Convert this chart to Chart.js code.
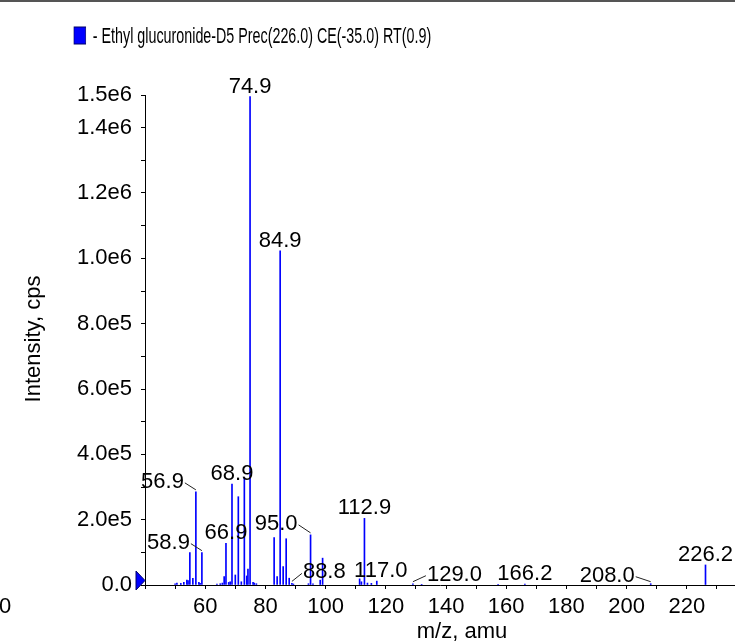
<!DOCTYPE html>
<html>
<head>
<meta charset="utf-8">
<script src="https://cdn.jsdelivr.net/npm/chart.js@4.4.1/dist/chart.umd.min.js"></script>
<style>
    html, body { margin: 0; padding: 0; background: #fff; }
    #wrap { position: relative; width: 735px; height: 642px; }
</style>
</head>
<body>
<div id="wrap"><canvas id="spectrumChart"></canvas></div>
<script>
// peak list (m/z, cps)
const mzValues = [50.0, 50.6, 51.9, 52.9, 53.9, 54.3, 54.9, 55.9, 56.9, 57.9, 58.3, 58.9,
    63.9, 65.0, 65.7, 66.3, 66.9, 67.8, 68.3, 68.9, 70.0, 71.0, 72.0, 73.0, 73.8, 74.2, 74.9,
    75.9, 76.3, 77.0, 82.9, 83.9, 84.9, 85.9, 86.9, 87.9, 88.8, 89.3, 94.3, 95.0, 95.8, 98.2, 99.0,
    111.3, 111.9, 112.9, 113.9, 115.2, 117.0, 129.0, 131.9, 157.3, 166.2, 208.0, 226.2];
const intensities = [4000, 6000, 5000, 8000, 15000, 14000, 100000, 21000, 288000, 8000, 5000, 100000,
    3000, 4000, 6000, 26000, 129000, 8000, 10000, 312000, 31000, 273000, 10000, 332000, 28000, 49000, 1510000,
    8000, 6000, 4000, 147000, 26000, 1033000, 57000, 143000, 21000, 5000, 3000, 4000, 155000, 4000, 15000, 83000,
    19000, 10000, 206000, 6000, 5000, 12000, 4000, 2000, 2000, 2500, 4000, 62000];
const peakLabels = ['74.9', '84.9', '56.9', '58.9', '66.9', '68.9', '95.0', '88.8', '112.9',
    '117.0', '129.0', '166.2', '208.0', '226.2'];
const xTickLabels = ['60', '80', '100', '120', '140', '160', '180', '200', '220'];
const yTickLabels = ['0.0', '2.0e5', '4.0e5', '6.0e5', '8.0e5', '1.0e6', '1.2e6', '1.4e6', '1.5e6'];
const seriesName = '- Ethyl glucuronide-D5 Prec(226.0) CE(-35.0) RT(0.9)';

// where the labels go, relative to the top of their peak (leader line when lead is set)
const labelPlacement = {
    '56.9': { dx: -11, dy: -9, lead: true },
    '58.9': { dx: -11, dy: -9, lead: true },
    '95.0': { dx: -12, dy: -10, lead: true },
    '88.8': { dx: 10, dy: -10, lead: true },
    '129.0': { dx: 13, dy: -8, lead: true },
    '208.0': { dx: -15, dy: -7, lead: true },
    '117.0': { dx: 4, dy: 0 }
};

const FONT = '"Liberation Sans", Arial, Helvetica, sans-serif';
Chart.defaults.font.family = FONT;
Chart.defaults.font.size = 22;
Chart.defaults.color = '#000';

function fmtY(v) {
    if (Math.abs(v) < 1) return '0.0';
    return v.toExponential(1).replace('e+', 'e');
}

const decorations = {
    id: 'decorations',
    afterDatasetsDraw(chart) {
        const { ctx, scales: { x, y } } = chart;
        ctx.save();
        ctx.font = '22px ' + FONT;
        ctx.fillStyle = '#000';
        ctx.textBaseline = 'alphabetic';

        peakLabels.forEach(lbl => {
            const i = mzValues.findIndex(m => m.toFixed(1) === lbl);
            const px = x.getPixelForValue(mzValues[i]);
            const py = y.getPixelForValue(intensities[i]);
            const p = labelPlacement[lbl];
            if (!p || !p.lead) {
                ctx.textAlign = 'center';
                ctx.fillText(lbl, px + (p ? p.dx : 0), py - 4);
                return;
            }
            const x1 = px + p.dx, y1 = py + p.dy;
            ctx.strokeStyle = '#222';
            ctx.lineWidth = 1;
            ctx.beginPath();
            ctx.moveTo(px, py - 2);
            ctx.lineTo(x1, y1);
            ctx.stroke();
            ctx.textAlign = p.dx < 0 ? 'right' : 'left';
            ctx.fillText(lbl, x1 + (p.dx < 0 ? -1 : 1), y1 + 5);
        });

        // zero marker on the y axis
        const y0 = y.getPixelForValue(0);
        ctx.fillStyle = '#0000ff';
        ctx.strokeStyle = '#000066';
        ctx.lineWidth = 1;
        ctx.beginPath();
        ctx.moveTo(136, y0 - 14);
        ctx.lineTo(136, y0 + 5);
        ctx.lineTo(145, y0 - 4.5);
        ctx.closePath();
        ctx.fill();
        ctx.stroke();

        // axis titles
        ctx.fillStyle = '#000';
        ctx.textAlign = 'center';
        ctx.fillText('m/z, amu', 462, 638);
        ctx.save();
        ctx.translate(40, 339);
        ctx.rotate(-Math.PI / 2);
        ctx.fillText('Intensity, cps', 0, 0);
        ctx.restore();

        // stray left label of the original
        ctx.textAlign = 'left';
        ctx.fillText('0', -1, 613);

        // top rule
        ctx.strokeStyle = '#555';
        ctx.lineWidth = 2;
        ctx.beginPath();
        ctx.moveTo(0, 1);
        ctx.lineTo(735, 1);
        ctx.stroke();

        // legend (condensed)
        ctx.save();
        ctx.translate(74, 0);
        ctx.scale(0.65, 1);
        ctx.fillStyle = '#0000ff';
        ctx.strokeStyle = '#000066';
        ctx.lineWidth = 1;
        ctx.fillRect(0, 27, 18, 17);
        ctx.strokeRect(0, 27, 18, 17);
        ctx.fillStyle = '#000';
        ctx.font = '22px ' + FONT;
        ctx.fillText(seriesName, 29, 43);
        ctx.restore();

        ctx.restore();
    }
};

const ctx = document.getElementById('spectrumChart').getContext('2d');
const spectrumChart = new Chart(ctx, {
    type: 'bar',
    data: {
        datasets: [{
            data: mzValues.map((m, i) => ({ x: m, y: intensities[i] })),
            backgroundColor: '#0000ff',
            borderWidth: 0,
            barThickness: 1,
            grouped: false,
            clip: false
        }]
    },
    options: {
        responsive: true,
        maintainAspectRatio: false,
        animation: false,
        devicePixelRatio: 1,
        layout: { padding: { top: 95, right: 0, left: 0, bottom: 0 } },
        plugins: { legend: { display: false }, tooltip: { enabled: false } },
        scales: {
            x: {
                type: 'linear',
                min: 40,
                max: 236,
                offset: false,
                afterFit: s => { s.height = 57; },
                grid: { drawOnChartArea: false, drawTicks: true, tickLength: 4, color: '#000', offset: false },
                border: { display: true, color: '#000', width: 1 },
                ticks: {
                    stepSize: 10,
                    autoSkip: false,
                    maxRotation: 0,
                    includeBounds: false,
                    padding: 5,
                    callback: v => xTickLabels.includes(String(v)) ? String(v) : ''
                }
            },
            y: {
                min: 0,
                max: 1515000,
                afterFit: s => { s.width = 145; },
                grid: { drawOnChartArea: false, drawTicks: true, tickLength: 4, color: '#000' },
                border: { display: true, color: '#000', width: 1 },
                ticks: {
                    stepSize: 100000,
                    autoSkip: false,
                    includeBounds: false,
                    padding: 9,
                    callback: v => {
                        const s = fmtY(Math.round(v / 100000) * 100000);
                        return yTickLabels.includes(s) ? s : '';
                    }
                }
            }
        }
    },
    plugins: [decorations]
});
</script>
</body>
</html>
